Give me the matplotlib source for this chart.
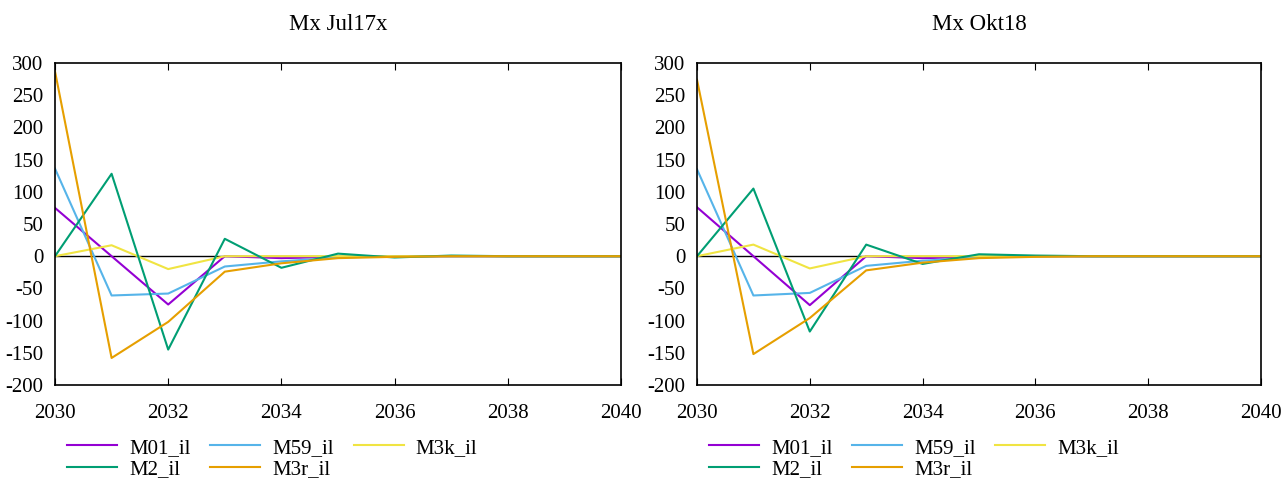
import matplotlib
matplotlib.use('Agg')
import matplotlib.pyplot as plt
import numpy as np

plt.rcParams['font.family'] = ['Liberation Serif', 'DejaVu Serif']
plt.rcParams['axes.unicode_minus'] = False

years = np.arange(2030, 2041)
names = ['M01_il', 'M59_il', 'M3k_il', 'M2_il', 'M3r_il']
colors = ['#9400d3', '#56b4e9', '#f0e442', '#009e73', '#e69f00']
titles = ['Mx Jul17x', 'Mx Okt18']

# panel 1: Mx Jul17x
jul_m01 = [75, 0, -75, 0, -3, -1, 0, 0, 0, 0, 0]
jul_m59 = [136, -61, -58, -16, -8, -2, 0, 0, 0, 0, 0]
jul_m3k = [0, 17, -20, 0, 0, 0, 0, 0, 0, 0, 0]
jul_m2 = [0, 128, -145, 27, -18, 4, -2, 1, 0, 0, 0]
jul_m3r = [287, -158, -102, -24, -11, -3, -1, 0, 0, 0, 0]

# panel 2: Mx Okt18
okt_m01 = [76, 0, -76, 0, -3, -1, 0, 0, 0, 0, 0]
okt_m59 = [135, -61, -57, -15, -7, -2, 0, 0, 0, 0, 0]
okt_m3k = [0, 18, -19, 0, 0, 0, 0, 0, 0, 0, 0]
okt_m2 = [0, 105, -117, 18, -12, 3, 1, 0, 0, 0, 0]
okt_m3r = [274, -152, -96, -22, -10, -3, -1, 0, 0, 0, 0]

panels = [[jul_m01, jul_m59, jul_m3k, jul_m2, jul_m3r],
          [okt_m01, okt_m59, okt_m3k, okt_m2, okt_m3r]]

fig = plt.figure(figsize=(12.86, 4.82), dpi=100)
lefts = [55 / 1286, 697 / 1286]
widths = [566 / 1286, 564 / 1286]

for k in range(2):
    ax = fig.add_axes([lefts[k], 97 / 482, widths[k], 322 / 482])
    ax.axhline(0, color='black', lw=1.0, zorder=1)
    handles = []
    for s, c, n in zip(panels[k], colors, names):
        h, = ax.plot(years, s, color=c, lw=1.5, label=n, zorder=2)
        handles.append(h)
    ax.set_xlim(2030, 2040)
    ax.set_ylim(-200, 300)
    ax.set_xticks(np.arange(2030, 2041, 2))
    ax.set_yticks(np.arange(-200, 301, 50))
    ax.tick_params(axis='x', direction='in', top=True, length=5, labelsize=15, pad=13.5)
    ax.tick_params(axis='y', direction='in', length=0, labelsize=15, pad=8.5)
    for sp in ax.spines.values():
        sp.set_linewidth(1.2)
    fig.text(lefts[k] + widths[k] / 2, 1 - 24 / 482, titles[k], ha='center', va='center', fontsize=16.5)
    order = [0, 3, 1, 4, 2]
    ax.legend([handles[i] for i in order], [names[i] for i in order], ncol=3,
              loc='upper left', bbox_to_anchor=(0.021, -0.165), frameon=False, fontsize=15,
              handlelength=2.4, handletextpad=0.58, columnspacing=0.95,
              labelspacing=0.1, borderaxespad=0, borderpad=0)

plt.savefig('out.png', dpi=100)
